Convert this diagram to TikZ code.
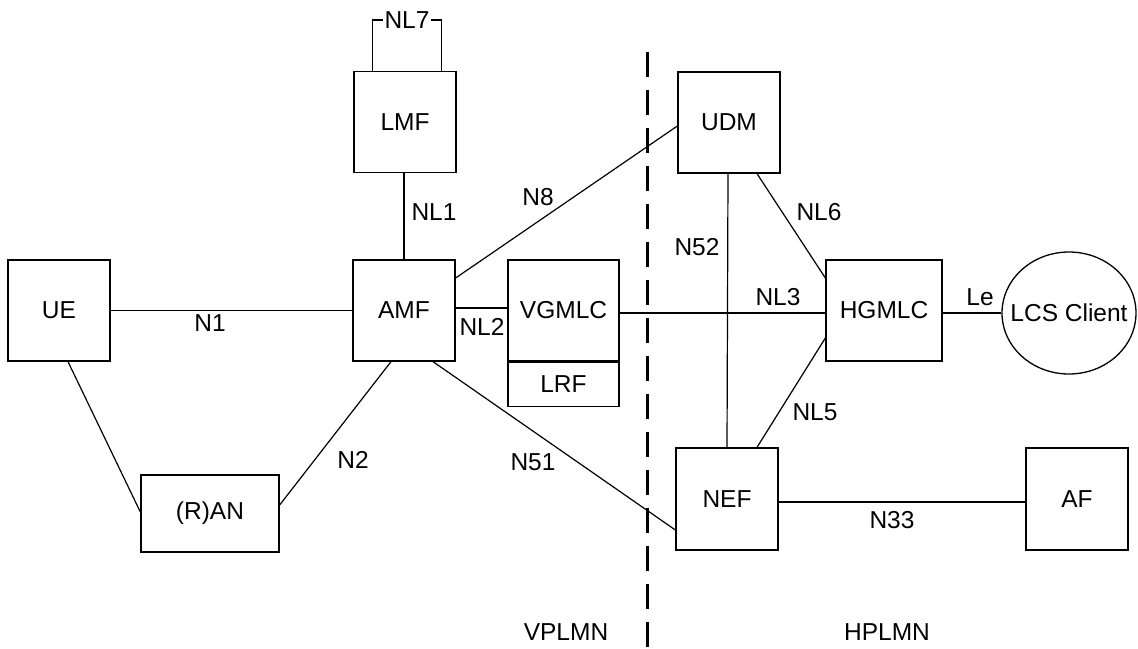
\documentclass[tikz,border=0pt]{standalone}
\usepackage{fontspec}
\setmainfont{Liberation Sans}
\usetikzlibrary{shapes.geometric}
\begin{document}
\begin{tikzpicture}[x=1pt,y=-1pt,
  every node/.style={font=\fontsize{24.5}{28}\selectfont},
  nf/.style={draw,line width=1.3pt,rectangle,inner sep=0pt,minimum width=102pt,minimum height=101pt},
  lbl/.style={inner sep=1pt},
  conn/.style={line width=1.2pt}]
\useasboundingbox (0,0) rectangle (1138,648);
% nodes
\node[nf] (UE) at (59,310.5) {UE};
\node[nf] (AMF) at (404,310.5) {AMF};
\node[nf] (LMF) at (405,122) {LMF};
\node[nf,minimum width=138pt,minimum height=77pt] (RAN) at (210,513.5) {(R)AN};
\node[nf,minimum width=111pt] (VGMLC) at (563.5,310.5) {VGMLC};
\node[nf,minimum width=111pt,minimum height=44pt,anchor=north] (LRF) at (VGMLC.south) {LRF};
\node[nf] (UDM) at (729,122.5) {UDM};
\node[nf,minimum width=116pt] (HGMLC) at (884,310.5) {HGMLC};
\node[nf,minimum height=102pt] (NEF) at (727,499) {NEF};
\node[nf,minimum height=102pt] (AF) at (1077,499) {AF};
\node[draw,line width=1.3pt,ellipse,inner xsep=-14pt,inner ysep=0pt,minimum width=134pt,minimum height=122pt] (LCS) at (1069,313) {LCS Client};
% dashed border
\coordinate (dtop) at (647,52);
\coordinate (dbot) at (647,648);
\draw[line width=3pt,dash pattern=on 25pt off 13pt] (dtop) -- (dbot);
% labels
\node[lbl] (nl7) at (407,20) {NL7};
\node[lbl] (lNL1) at (434,212) {NL1};
\node[lbl] (lN8) at (538,197) {N8};
\node[lbl] (lN1) at (210,323) {N1};
\node[lbl] (lNL2) at (482,327) {NL2};
\node[lbl] (lNL3) at (778,297) {NL3};
\node[lbl] (lN52) at (697,247) {N52};
\node[lbl] (lNL6) at (819,212) {NL6};
\node[lbl] (lNL5) at (815,412) {NL5};
\node[lbl] (lLe) at (980,297) {Le};
\node[lbl] (lN33) at (892,520) {N33};
\node[lbl] (lN51) at (533,462) {N51};
\node[lbl] (lN2) at (353,460) {N2};
\node[lbl] (lV) at (566,632) {VPLMN};
\node[lbl] (lH) at (887,632) {HPLMN};
% connectors
\draw[conn] ([xshift=19pt]LMF.north west) |- (nl7.west);
\draw[conn] ([xshift=-15pt]LMF.north east) |- (nl7.east);
\draw[conn] (UE) -- (AMF);
\draw[conn] ([xshift=-1pt]LMF.south) -- (AMF.north);
\draw[conn] ([yshift=32.5pt]AMF.east) -- ([yshift=-3.5pt]UDM.west);
\draw[conn] ([yshift=2.5pt]AMF.east) -- ([yshift=2.5pt]VGMLC.west);
\draw[conn] ([yshift=-2.5pt]VGMLC.east) -- ([yshift=-2.5pt]HGMLC.west);
\draw[conn] ([yshift=-2.5pt]HGMLC.east) -- (LCS.west);
\draw[conn] ([xshift=-1pt]UDM.south) -- (NEF.north);
\draw[conn] ([xshift=28pt]UDM.south) -- ([yshift=32.5pt]HGMLC.west);
\draw[conn] ([yshift=-27.5pt]HGMLC.west) -- ([xshift=30pt]NEF.north);
\draw[conn] ([yshift=-3pt]NEF.east) -- ([yshift=-3pt]AF.west);
\draw[conn] ([xshift=29pt]AMF.south) -- ([yshift=-31pt]NEF.west);
\draw[conn] ([yshift=8.5pt]RAN.east) -- ([xshift=-13pt]AMF.south);
\draw[conn] ([xshift=9pt]UE.south) -- ([yshift=1.5pt]RAN.west);
\end{tikzpicture}
\end{document}
